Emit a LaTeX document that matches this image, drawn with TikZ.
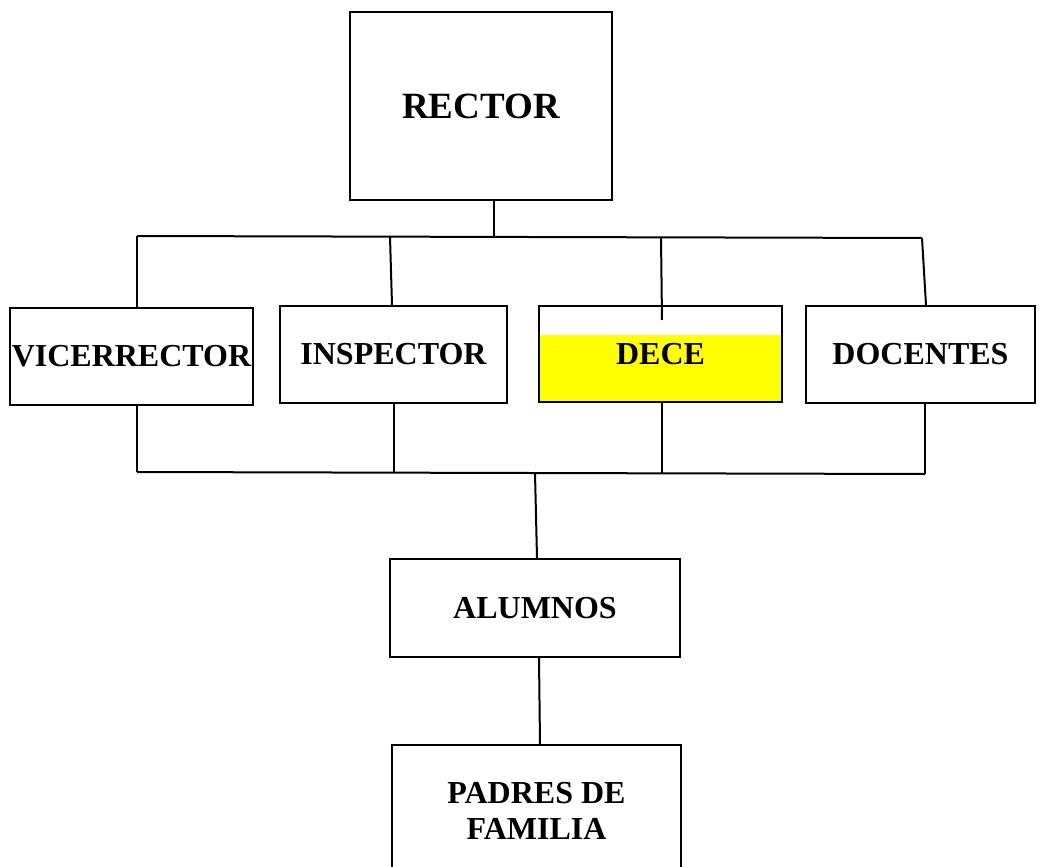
\documentclass[tikz,border=0pt]{standalone}
\usepackage{fontspec}
\setmainfont{Liberation Serif}
\usepackage{tikz}
\usetikzlibrary{positioning, calc, backgrounds}
\definecolor{mYellow}{HTML}{FFFF00}

\begin{document}
\begin{tikzpicture}[x=0.5pt, y=-0.5pt, line width=1pt,
    box/.style={draw, rectangle, inner sep=0pt, align=center,
      font=\fontsize{16}{18}\selectfont\bfseries}]
    \useasboundingbox (0,0) rectangle (1039,867);
    \clip (0,0) rectangle (1039,867);
    \node[box, minimum width=131pt, minimum height=94pt,
      font=\fontsize{18.5}{20}\selectfont\bfseries] (rector) at (481,106) {RECTOR};
    \node[box, minimum width=121.5pt, minimum height=48.5pt] (vice) at (131.5,356.5) {VICERRECTOR};
    \node[box, minimum width=113.5pt, minimum height=48.5pt] (insp) at (393.5,354.5) {INSPECTOR};
    \node[box, minimum width=121.5pt, minimum height=48pt] (dece) at (660.5,354) {DECE};
    \node[box, minimum width=114.5pt, minimum height=48.5pt] (doc) at (920.5,354.5) {DOCENTES};
    \node[box, minimum width=145pt, minimum height=49pt] (alum) at (535,608) {ALUMNOS};
    \node[box, minimum width=144.5pt, minimum height=65.5pt] (padres) at (536.5,810.5) {PADRES DE\\FAMILIA};
    \begin{scope}[on background layer]
      \fill[mYellow] ([yshift=-15pt]dece.north west) rectangle (dece.south east);
    \end{scope}
    \coordinate (tl) at (137,236);
    \coordinate (ti) at (390,237);
    \coordinate (tm) at (494,237);
    \coordinate (td) at (661,237);
    \coordinate (tr) at (922,238);
    \coordinate (bl) at (137,472);
    \coordinate (bi) at (394,473);
    \coordinate (bm) at (535,473);
    \coordinate (bd) at (662,473);
    \coordinate (br) at (925,474);
    \draw (rector.south -| tm) -- (tm);
    \draw (tl) -- (tr);
    \draw (tl) -- ([xshift=2.75pt]vice.north);
    \draw (ti) -- ([xshift=-0.75pt]insp.north);
    \draw (td) -- ([xshift=0.75pt, yshift=-7.5pt]dece.north);
    \draw (tr) -- ([xshift=2.75pt]doc.north);
    \draw (bl) -- (br);
    \draw ([xshift=2.75pt]vice.south) -- (bl);
    \draw ([xshift=0.25pt]insp.south) -- (bi);
    \draw ([xshift=0.75pt]dece.south) -- (bd);
    \draw ([xshift=2.25pt]doc.south) -- (br);
    \draw (bm) -- ([xshift=1pt]alum.north);
    \draw ([xshift=2pt]alum.south) -- ([xshift=1.75pt]padres.north);
  \end{tikzpicture}
\end{document}
